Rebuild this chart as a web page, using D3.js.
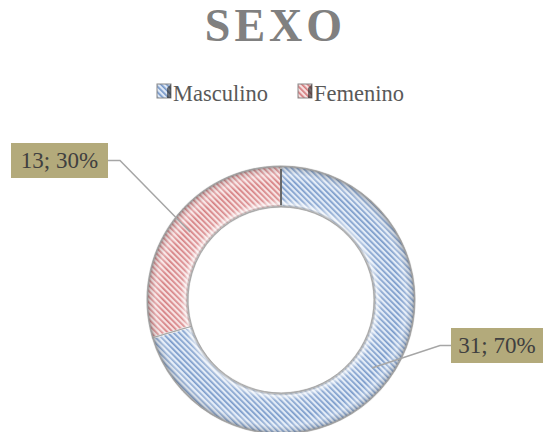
<!DOCTYPE html>
<html>
<head>
<meta charset="utf-8">
<script src="https://cdn.jsdelivr.net/npm/d3@7"></script>
<style>
  body { margin: 0; background: #fff; }
  svg { display: block; font-family: "Liberation Serif", "Times New Roman", serif; }
</style>
</head>
<body>
<svg width="543" height="432"></svg>
<script>
const categories = ["Masculino", "Femenino"];
const values = [31, 13];
const percentLabels = ["70%", "30%"];

const svg = d3.select("svg");
const width = 543, height = 432;
const cx = 281, cy = 300, outerR = 134, innerR = 93;

const baseColors = ["#dfe9f6", "#f6e0e0"];
const stripeColors = ["#7496c8", "#d47a7d"];

const defs = svg.append("defs");

// striped patterns for each slice
categories.forEach((c, i) => {
    const p = defs.append("pattern")
        .attr("id", "stripe" + i)
        .attr("patternUnits", "userSpaceOnUse")
        .attr("width", 4).attr("height", 4)
        .attr("patternTransform", "rotate(-45)");
    p.append("rect").attr("width", 4).attr("height", 4).attr("fill", baseColors[i]);
    p.append("rect").attr("width", 1.7).attr("height", 4).attr("fill", stripeColors[i]);
});

// bevel shading across the ring (centre of the ring is the local origin)
const bevel = defs.append("radialGradient")
    .attr("id", "bevel")
    .attr("gradientUnits", "userSpaceOnUse")
    .attr("cx", 0).attr("cy", 0).attr("r", outerR);
[
    [0.69, "#555", 0.5],
    [0.715, "#fff", 0.7],
    [0.75, "#fff", 0.15],
    [0.88, "#fff", 0.0],
    [0.94, "#fff", 0.3],
    [0.975, "#999", 0.25],
    [1.0, "#444", 0.6]
].forEach(s => bevel.append("stop")
    .attr("offset", s[0]).attr("stop-color", s[1]).attr("stop-opacity", s[2]));

// title
svg.append("text")
    .attr("x", width / 2 + 4).attr("y", 41)
    .attr("text-anchor", "middle")
    .attr("font-size", 46).attr("font-weight", "bold")
    .attr("letter-spacing", 4)
    .attr("fill", "#808080")
    .text("SEXO");

// legend
const legendX = [157, 298];
const legend = svg.append("g").selectAll("g")
    .data(categories)
    .enter().append("g")
    .attr("transform", (d, i) => `translate(${legendX[i]},93)`);
legend.append("rect")
    .attr("x", 0).attr("y", -9).attr("width", 14).attr("height", 14)
    .attr("fill", (d, i) => `url(#stripe${i})`)
    .attr("stroke", "#888").attr("stroke-width", 1);
legend.append("path")
    .attr("d", "M14,-9 L14,5 L10,5 L10,-5 Z")
    .attr("fill", "#222").attr("opacity", 0.6);
legend.append("text")
    .attr("x", 16).attr("y", 8)
    .attr("font-size", 22.5).attr("fill", "#595959")
    .text(d => d);

// donut
const pie = d3.pie().sort(null).value(d => d);
const arcs = pie(values);
const arc = d3.arc().innerRadius(innerR).outerRadius(outerR);

const ring = svg.append("g").attr("transform", `translate(${cx},${cy})`);
ring.selectAll("path.slice")
    .data(arcs)
    .enter().append("path")
    .attr("class", "slice")
    .attr("d", arc)
    .attr("fill", (d, i) => `url(#stripe${i})`)
    .attr("stroke", "#f0f0f0").attr("stroke-width", 2);

ring.selectAll("path.shade")
    .data(arcs)
    .enter().append("path")
    .attr("class", "shade")
    .attr("d", arc)
    .attr("fill", "url(#bevel)")
    .attr("stroke", "#a0a0a0").attr("stroke-width", 0.8);

// dark seam at the top where the slices meet
ring.append("line")
    .attr("x1", 0).attr("y1", -outerR + 3).attr("x2", 0).attr("y2", -innerR - 2)
    .attr("stroke", "#333").attr("stroke-width", 1.2);

// data labels with leader lines
const labelBoxes = [
    {x: 451, y: 328, w: 92, h: 35, elbow: 440},
    {x: 11, y: 143, w: 97, h: 35, elbow: 120}
];
const labels = svg.append("g");
arcs.forEach((a, i) => {
    const b = labelBoxes[i];
    const c = arc.centroid(a);
    const px = cx + c[0], py = cy + c[1];
    const my = b.y + b.h / 2;
    const startX = i === 0 ? b.x : b.x + b.w;
    labels.append("polyline")
        .attr("points", `${startX},${my} ${b.elbow},${my} ${px},${py}`)
        .attr("fill", "none").attr("stroke", "#a6a6a6").attr("stroke-width", 1.5);
    labels.append("rect")
        .attr("x", b.x).attr("y", b.y).attr("width", b.w).attr("height", b.h)
        .attr("fill", "#b3aa7b");
    labels.append("text")
        .attr("x", b.x + b.w / 2).attr("y", my + 7.5)
        .attr("text-anchor", "middle")
        .attr("font-size", 23).attr("fill", "#404040")
        .text(`${values[i]}; ${percentLabels[i]}`);
});
</script>
</body>
</html>
